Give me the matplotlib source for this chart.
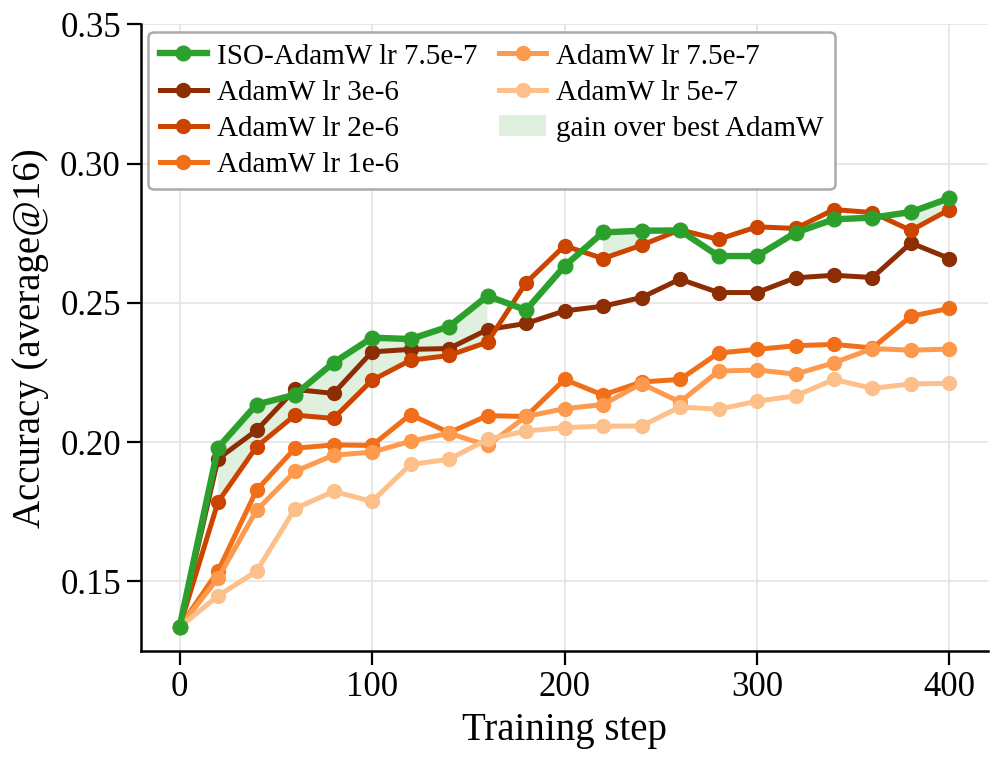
import numpy as np
import matplotlib
matplotlib.use("Agg")
import matplotlib.pyplot as plt

steps = list(range(0, 401, 20))

iso_adamw = [0.1335, 0.1980, 0.2135, 0.2170, 0.2285, 0.2375, 0.2370, 0.2415, 0.2525, 0.2474,
             0.2632, 0.2753, 0.2759, 0.2760, 0.2668, 0.2668, 0.2752, 0.2800, 0.2806, 0.2826, 0.2876]
adamw_3e6 = [0.1335, 0.1940, 0.2042, 0.2189, 0.2175, 0.2324, 0.2333, 0.2336, 0.2404, 0.2426,
             0.2471, 0.2488, 0.2519, 0.2585, 0.2537, 0.2537, 0.2590, 0.2599, 0.2591, 0.2715, 0.2659]
adamw_2e6 = [0.1335, 0.1785, 0.1983, 0.2097, 0.2085, 0.2222, 0.2294, 0.2311, 0.2359, 0.2572,
             0.2705, 0.2659, 0.2707, 0.2762, 0.2728, 0.2773, 0.2767, 0.2835, 0.2824, 0.2760, 0.2835]
adamw_1e6 = [0.1335, 0.1537, 0.1827, 0.1978, 0.1990, 0.1988, 0.2099, 0.2034, 0.2095, 0.2092,
             0.2225, 0.2169, 0.2216, 0.2225, 0.2320, 0.2333, 0.2346, 0.2351, 0.2338, 0.2452, 0.2480]
adamw_75e7 = [0.1335, 0.1511, 0.1755, 0.1895, 0.1953, 0.1964, 0.2003, 0.2032, 0.1988, 0.2092,
              0.2120, 0.2135, 0.2210, 0.2144, 0.2255, 0.2259, 0.2244, 0.2285, 0.2336, 0.2330, 0.2334]
adamw_5e7 = [0.1335, 0.1448, 0.1536, 0.1761, 0.1823, 0.1787, 0.1920, 0.1938, 0.2010, 0.2040,
             0.2052, 0.2057, 0.2058, 0.2126, 0.2118, 0.2147, 0.2166, 0.2225, 0.2193, 0.2209, 0.2211]

labels = ["AdamW lr 3e-6", "AdamW lr 2e-6", "AdamW lr 1e-6", "AdamW lr 7.5e-7", "AdamW lr 5e-7"]
series = [adamw_3e6, adamw_2e6, adamw_1e6, adamw_75e7, adamw_5e7]
colors = ["#8c2d04", "#cc4400", "#f26f1a", "#fd9a4d", "#fdc08a"]

plt.rcParams['font.family'] = ['Liberation Serif', 'DejaVu Serif']
plt.rcParams['mathtext.fontset'] = 'stix'

fig = plt.figure(figsize=(10, 7.6), dpi=100)
ax = fig.add_axes([0.141, 0.1434, 0.847, 0.8246])

handles = []
h_iso, = ax.plot(steps, iso_adamw, color="#2ca02c", lw=4.6, marker="o", ms=10.5,
                 label="ISO-AdamW lr 7.5e-7", zorder=10)
handles.append(h_iso)
for y, lab, c in zip(series, labels, colors):
    h, = ax.plot(steps, y, color=c, lw=3.6, marker="o", ms=10, label=lab, zorder=5)
    handles.append(h)

iso = np.array(iso_adamw)
best = np.array(adamw_2e6)
fh = ax.fill_between(steps, best, iso, where=iso > best, interpolate=False,
                     color="#2ca02c", alpha=0.15, lw=0, label="gain over best AdamW", zorder=2)
handles.append(fh)

ax.set_xlim(-20, 420)
ax.set_ylim(0.125, 0.35)
ax.set_xticks([0, 100, 200, 300, 400])
ax.set_yticks([0.15, 0.20, 0.25, 0.30, 0.35])
ax.grid(True, color="#e6e6e6", lw=1.3)
ax.set_axisbelow(True)
for s in ["top", "right"]:
    ax.spines[s].set_visible(False)
for s in ["left", "bottom"]:
    ax.spines[s].set_linewidth(1.8)
ax.tick_params(axis="both", labelsize=25, length=10, width=1.6, pad=4.5)
ax.set_xlabel("Training step", fontsize=28, labelpad=6)
ax.set_ylabel("Accuracy (average@16)", fontsize=28, labelpad=8)

leg = ax.legend(handles=handles, loc="upper left", ncol=2, fontsize=21,
                frameon=True, fancybox=True, edgecolor="#aaaaaa", framealpha=1,
                borderaxespad=0.25, handlelength=1.6, handletextpad=0.35,
                columnspacing=0.75, labelspacing=0.33, borderpad=0.4)
leg.get_frame().set_linewidth(1.8)

fig.savefig("out.png", dpi=100)
